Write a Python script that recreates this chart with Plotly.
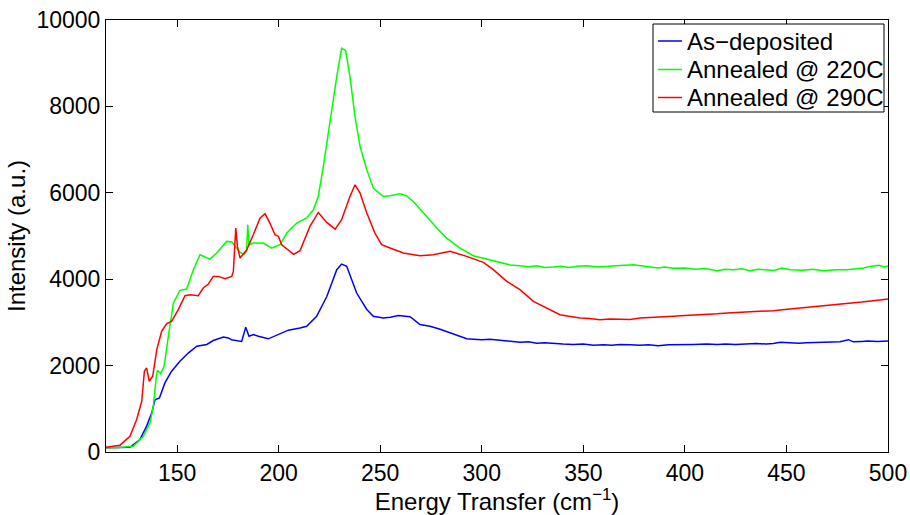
import plotly.graph_objects as go

# ---- data ----
blue_x = [115, 120, 126.8, 131.7, 135, 137.5, 139.1, 141.3, 144, 147.3, 151.4, 155.5, 159.7, 164.6,
          167.8, 172.8, 175.2, 176.8, 181.8, 183.8, 185.4, 187.6, 190, 194.9, 200.7, 204.8, 210.5,
          213.8, 218.7, 223.7, 228.6, 231, 233.5, 238.4, 243.4, 246.6, 251.5, 255, 258.9, 264.7,
          269.6, 274.5, 279.5, 284.4, 288, 292.6, 296, 300, 304, 307.4, 312, 318.8, 323, 327, 331,
          335.2, 340, 345, 350, 354.9, 360, 364, 368, 373, 377.9, 382, 386.9, 392, 398, 404,
          410.8, 416, 420, 425, 430, 435, 440, 443.5, 446.9, 452, 456, 460, 465, 470, 476.4, 480.5,
          483, 487, 490, 495, 500]
blue_y = [100, 100, 110, 290, 600, 900, 1210, 1250, 1600, 1870, 2100, 2290, 2450, 2490,
          2580, 2660, 2640, 2600, 2560, 2890, 2680, 2720, 2680, 2620, 2740, 2820, 2870,
          2910, 3140, 3600, 4220, 4350, 4300, 3680, 3300, 3140, 3100, 3120, 3160, 3130,
          2950, 2910, 2840, 2760, 2700, 2620, 2610, 2600, 2610, 2590, 2570, 2540, 2550, 2520, 2530,
          2510, 2500, 2490, 2500, 2470, 2480, 2470, 2490, 2480, 2470, 2480, 2460, 2480, 2480, 2490,
          2500, 2490, 2500, 2490, 2500, 2510, 2500, 2510, 2540, 2530, 2520, 2530, 2540, 2550, 2550, 2600,
          2550, 2560, 2570, 2560, 2570]

green_x = [115, 120, 128.5, 133.4, 136.7, 138.3, 139.6, 140.3, 141.9, 143.6, 145.7, 148.2, 151.4,
           154.7, 158, 161.3, 166.2, 169.5, 174.4, 176.9, 181, 182.9, 184.2, 184.8, 185.4, 187.6,
           192.5, 196.6, 200.7, 204, 208.9, 213.8, 217.1, 219.5, 222, 225.3, 228.6, 231, 233,
           235.1, 237.6, 240.1, 243.4, 246.6, 251.5, 254.8, 259.7, 263, 266.3, 272.9, 277.8,
           282.7, 289.3, 295.8, 302.4, 309, 314, 318.8, 323, 327, 331, 335.2, 339, 343, 347, 351.7,
           356, 362, 368, 374.6, 380, 386.9, 390, 394.3, 400, 405, 410, 415.7, 420, 424, 428, 432.1,
           436, 440, 444, 447.7, 452, 458, 463, 468.2, 474, 479.7, 484, 488, 491.2, 495.4, 498, 500]
green_y = [100, 100, 135, 366, 674, 1060, 1676, 1892, 1815, 1984, 2678, 3449, 3742,
           3773, 4220, 4566, 4466, 4605, 4875, 4860, 4620, 4566, 4650, 5260, 4800, 4836,
           4836, 4720, 4798, 5068, 5299, 5420, 5607, 5915, 6608, 7688, 8690, 9345, 9291,
           8690, 7764, 7071, 6532, 6108, 5915, 5930, 5977, 5930, 5800, 5453, 5183,
           4952, 4721, 4543, 4467, 4374, 4330, 4312, 4290, 4310, 4270, 4281, 4300, 4270, 4300, 4312,
           4290, 4300, 4310, 4335, 4300, 4258, 4280, 4251, 4260, 4230, 4250, 4197, 4230, 4220, 4240, 4197,
           4230, 4210, 4200, 4258, 4220, 4210, 4230, 4197, 4220, 4220, 4240, 4260, 4297, 4320, 4290, 4300]

red_x = [115, 121.9, 126.8, 130.1, 132.6, 133.9, 135, 136.3, 138, 140, 142.4, 144.9, 147.3, 150.6,
         153.9, 156.4, 160.4, 162.9, 165.4, 167.8, 170.3, 173.6, 176.9, 177.7, 178.9, 179.7, 181,
         184.3, 187.5, 190.8, 193.3, 195.7, 198.2, 199.9, 201.5, 204.8, 207.4, 210.5, 215.4, 219.5,
         223.7, 227.8, 231, 235.1, 237.6, 240.1, 243.4, 247.4, 250.7, 254.8, 261.4, 269.6, 276.1,
         284.4, 292.6, 300.8, 305.7, 312.3, 318.8, 325.4, 332, 338.5, 343, 348.4, 353, 358.2, 363,
         368, 373, 377.9, 382, 386.9, 390, 394.3, 400, 405, 410.8, 416, 421, 427.2, 432, 438, 443.5,
         448, 454, 460, 465, 470, 476.4, 482, 487, 492.8, 496, 500]
red_y = [110, 158, 366, 751, 1175, 1869, 1946, 1638, 1753, 2370, 2794, 2971, 3025, 3295,
         3619, 3642, 3619, 3796, 3889, 4065, 4065, 4011, 4065, 4181, 5183, 4759, 4489,
         4682, 5029, 5414, 5514, 5299, 5029, 4990, 4798, 4682, 4574, 4660, 5222, 5545,
         5314, 5160, 5376, 5915, 6185, 5993, 5530, 5068, 4798, 4721, 4605, 4543, 4566,
         4644, 4528, 4389, 4220, 3950, 3757, 3487, 3334, 3179, 3140, 3102, 3090, 3064, 3080,
         3079, 3070, 3102, 3110, 3126, 3120, 3141, 3160, 3170, 3195, 3200, 3220, 3233, 3240, 3250, 3272,
         3290, 3320, 3357, 3370, 3400, 3426, 3450, 3470, 3510, 3520, 3542]

series_names = ["As−deposited", "Annealed @ 220C", "Annealed @ 290C"]
series_colors = ["#0000ff", "#00ff00", "#ff0000"]

x_ticks = [150, 200, 250, 300, 350, 400, 450, 500]
y_ticks = [0, 2000, 4000, 6000, 8000, 10000]

FONT = "Liberation Sans, Arial, Helvetica, sans-serif"

W, H = 910, 515
ML, MR, MT, MB = 106, 22, 20, 63
PW, PH = W - ML - MR, H - MT - MB


def px(xp):
    return (xp - ML) / PW


def py(yp):
    return (H - MB - yp) / PH


fig = go.Figure()
for xs, ys, nm, col in zip([blue_x, green_x, red_x], [blue_y, green_y, red_y], series_names, series_colors):
    fig.add_trace(go.Scatter(x=xs, y=ys, mode="lines", name=nm,
                             line=dict(color=col, width=1.5), showlegend=False))

axis_common = dict(showline=True, linecolor="black", linewidth=1, mirror="ticks",
                   ticks="inside", ticklen=7, tickcolor="black", tickwidth=1,
                   showgrid=False, zeroline=False,
                   tickfont=dict(family=FONT, size=23, color="black"))

# legend drawn as box + line samples + real text
shapes = [dict(type="rect", xref="paper", yref="paper", x0=px(653), x1=px(884), y0=py(112), y1=py(24),
               line=dict(color="black", width=1), fillcolor="white", layer="above")]
annotations = []
row_y = [41, 69.5, 97.5]
for nm, col, ry in zip(series_names, series_colors, row_y):
    shapes.append(dict(type="line", xref="paper", yref="paper", x0=px(658), x1=px(682),
                       y0=py(ry), y1=py(ry), line=dict(color=col, width=1.5), layer="above"))
    annotations.append(dict(text=nm, xref="paper", yref="paper", x=px(685), y=py(ry),
                            xanchor="left", yanchor="middle", showarrow=False,
                            font=dict(family=FONT, size=24, color="black")))

fig.update_layout(
    width=W, height=H,
    margin=dict(l=ML, r=MR, t=MT, b=MB, autoexpand=False),
    paper_bgcolor="white", plot_bgcolor="white",
    font=dict(family=FONT, size=23, color="black"),
    showlegend=False,
    shapes=shapes, annotations=annotations,
    xaxis=dict(range=[115, 500], tickvals=x_ticks, ticktext=[str(v) for v in x_ticks],
               title=dict(text="Energy Transfer (cm<sup>−1</sup>)", standoff=0,
                          font=dict(family=FONT, size=24)),
               **axis_common),
    yaxis=dict(range=[0, 10000], tickvals=y_ticks, ticktext=[str(v) for v in y_ticks],
               title=dict(text="Intensity (a.u.)", standoff=4,
                          font=dict(family=FONT, size=24)),
               **axis_common),
)

fig.write_html("out.html")
